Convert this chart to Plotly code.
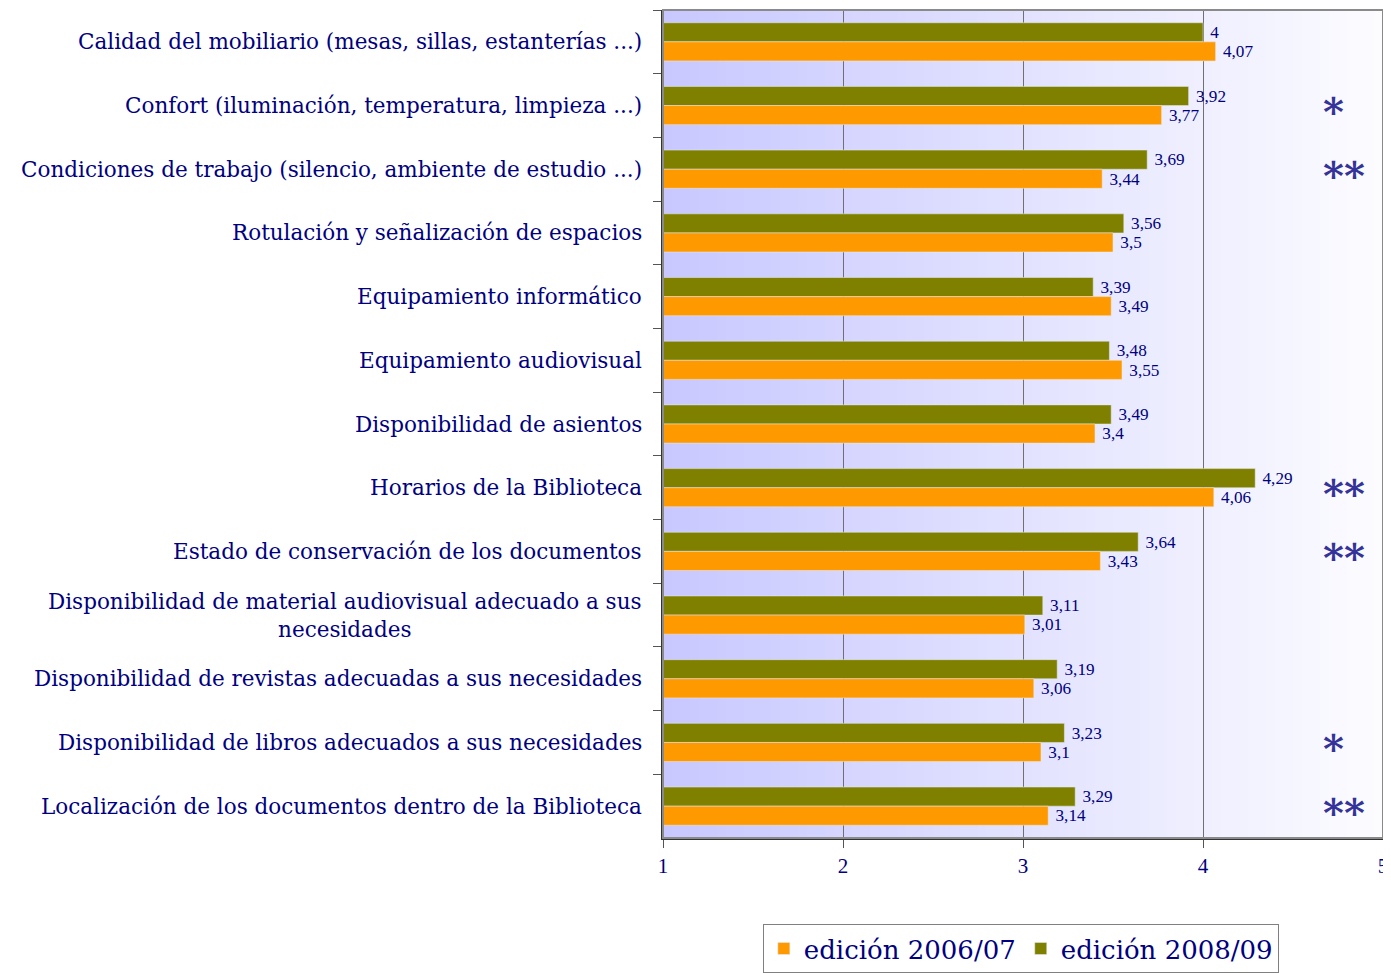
import plotly.graph_objects as go

# categories top to bottom
categorias = [
    "Calidad del mobiliario (mesas, sillas, estanterías ...)",
    "Confort (iluminación, temperatura, limpieza ...)",
    "Condiciones de trabajo (silencio, ambiente de estudio ...)",
    "Rotulación y señalización de espacios",
    "Equipamiento informático",
    "Equipamiento audiovisual",
    "Disponibilidad de asientos",
    "Horarios de la Biblioteca",
    "Estado de conservación de los documentos",
    "Disponibilidad de material audiovisual adecuado a sus<br>necesidades",
    "Disponibilidad de revistas adecuadas a sus necesidades",
    "Disponibilidad de libros adecuados a sus necesidades",
    "Localización de los documentos dentro de la Biblioteca",
]
ed_2008_09 = [4, 3.92, 3.69, 3.56, 3.39, 3.48, 3.49, 4.29, 3.64, 3.11, 3.19, 3.23, 3.29]
ed_2006_07 = [4.07, 3.77, 3.44, 3.5, 3.49, 3.55, 3.4, 4.06, 3.43, 3.01, 3.06, 3.1, 3.14]
estrellas = ["", "*", "**", "", "", "", "", "**", "**", "", "", "*", "**"]
x_ticks = [1, 2, 3, 4, 5]

NAVY = "#000080"
OLIVE = "#808000"
ORANGE = "#FF9900"


def fmt(v):
    # comma decimals, small gap from the bar end
    return " " + ("%g" % v).replace(".", ",")


fig = go.Figure()

# olive first so it sits on top with reversed y
fig.add_trace(go.Bar(
    y=categorias, x=ed_2008_09, orientation="h", name="edición 2008/09",
    marker_color=OLIVE, legendrank=2,
    text=[fmt(v) for v in ed_2008_09], textposition="outside",
    textfont=dict(family="Liberation Serif", size=18, color=NAVY),
    cliponaxis=False,
))
fig.add_trace(go.Bar(
    y=categorias, x=ed_2006_07, orientation="h", name="edición 2006/07",
    marker_color=ORANGE, legendrank=1,
    text=[fmt(v) for v in ed_2006_07], textposition="outside",
    textfont=dict(family="Liberation Serif", size=18, color=NAVY),
    cliponaxis=False,
))

# background gradient, lavender -> almost white
n = 80
c0 = (200, 200, 255)
c1 = (252, 252, 255)
for i in range(n):
    t = i / (n - 1)
    col = "rgb(%d,%d,%d)" % tuple(round(a + (b - a) * t) for a, b in zip(c0, c1))
    x0 = 1 + 4 * i / n
    fig.add_shape(type="rect", xref="x", yref="paper", x0=x0, x1=x0 + 4 / n + 0.002,
                  y0=0, y1=1, fillcolor=col, line_width=0, layer="below")

# category labels as annotations (centered multi-line text)
for cat in categorias:
    fig.add_annotation(x=-0.027, xref="paper", y=cat, yref="y", text=cat,
                       showarrow=False, xanchor="right", align="center",
                       font=dict(family="DejaVu Serif", size=21.5, color=NAVY))

# significance stars
for cat, s in zip(categorias, estrellas):
    if s:
        fig.add_annotation(x=4.655, y=cat, text="<b>%s</b>" % s, showarrow=False,
                           xanchor="left", yshift=-6,
                           font=dict(family="DejaVu Serif", size=40, color="#333399"))

# page body adds an 8px offset, margins shifted to compensate
fig.update_layout(
    width=1391, height=965,
    margin=dict(l=655, r=16, t=2, b=135, autoexpand=False),
    barmode="group", bargap=0.4, bargroupgap=0,
    plot_bgcolor="white", paper_bgcolor="white",
    showlegend=True,
    legend=dict(orientation="h", x=0.497, xanchor="center", y=-0.104, yanchor="top",
                bordercolor="#808080", borderwidth=1, traceorder="normal",
                font=dict(family="DejaVu Serif", size=26, color=NAVY)),
    xaxis=dict(range=[1, 5], tickvals=x_ticks, showgrid=True, gridcolor="#707070", gridwidth=1,
               ticks="outside", ticklen=8, tickcolor="#555555", ticklabeloverflow="allow",
               showline=True, linecolor="#333333", linewidth=2, mirror=False,
               tickfont=dict(family="Liberation Serif", size=21, color=NAVY),
               zeroline=False),
    yaxis=dict(autorange="reversed", showticklabels=False, ticks="outside", ticklen=8,
               tickson="boundaries", tickcolor="#555555",
               showline=True, linecolor="#333333", linewidth=1.5),
)
# gray frame around the plot
fig.add_shape(type="rect", xref="paper", yref="paper", x0=0, x1=1, y0=0, y1=1,
              line=dict(color="#8a8a8a", width=2), layer="above")

fig.write_html("out.html")
